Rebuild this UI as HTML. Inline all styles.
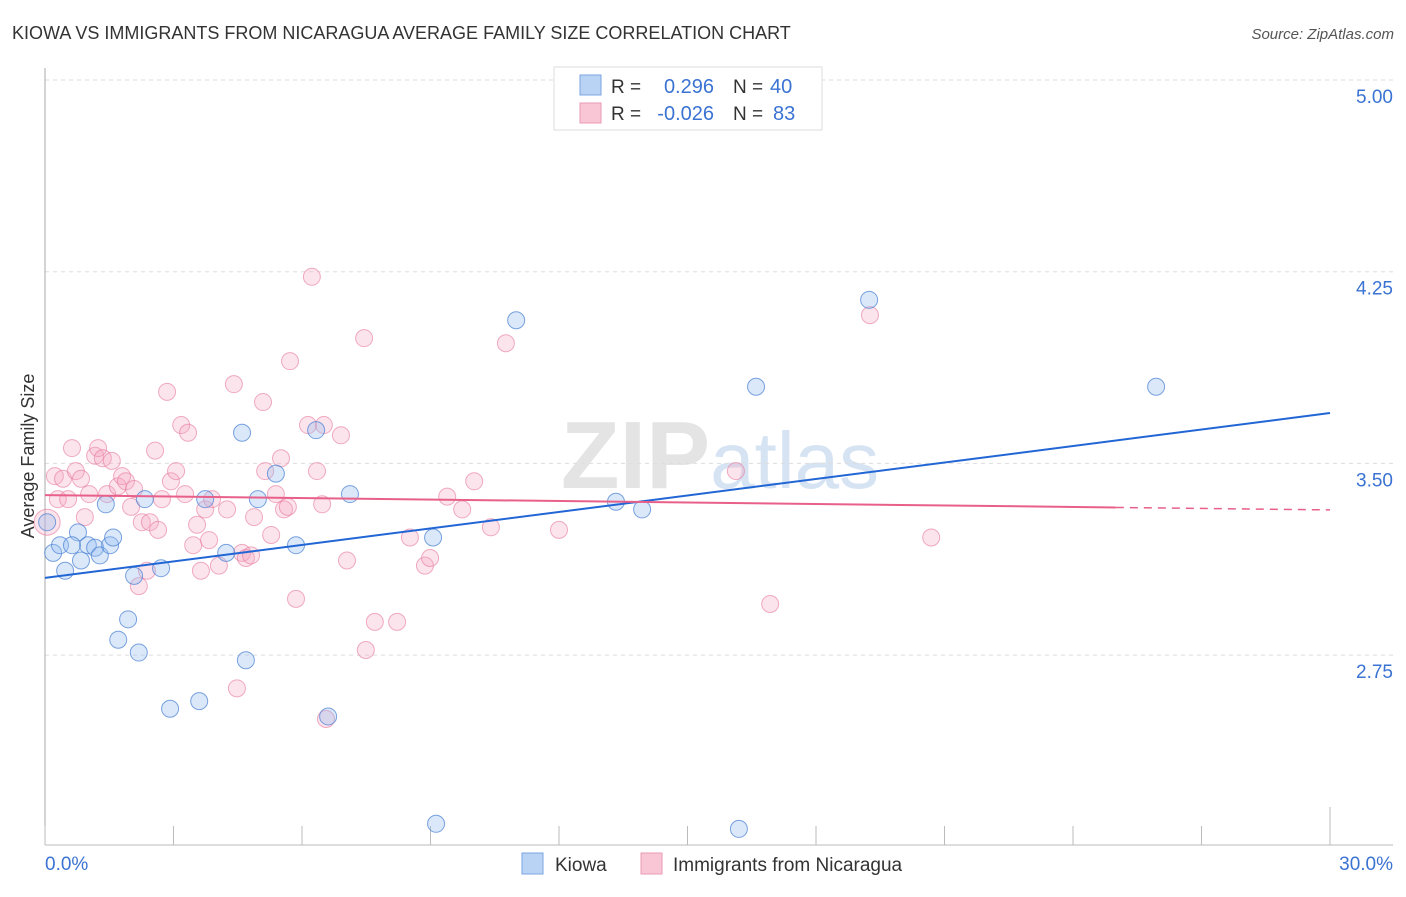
<!DOCTYPE html>
<html><head><meta charset="utf-8"><style>
body{margin:0;background:#fff;font-family:"Liberation Sans",sans-serif}
svg text{font-family:"Liberation Sans",sans-serif}
</style></head><body>
<svg id="chart" width="1406" height="892" xmlns="http://www.w3.org/2000/svg">
<text x="12" y="39" font-size="18" fill="#333">KIOWA VS IMMIGRANTS FROM NICARAGUA AVERAGE FAMILY SIZE CORRELATION CHART</text>
<text x="1394" y="39" font-size="15" fill="#555" text-anchor="end" font-style="italic">Source: ZipAtlas.com</text>
<text x="720" y="488" font-size="96" fill="#e4e4e4" text-anchor="middle" font-family="Liberation Serif" font-weight="bold">ZIP<tspan fill="#d6e3f3" font-family="Liberation Sans" font-weight="normal" font-size="80">atlas</tspan></text>
<g id="grid"></g><g id="axes"></g><g id="pts"></g><g id="lines"></g>
<text transform="translate(34,456) rotate(-90)" font-size="18" fill="#333" text-anchor="middle">Average Family Size</text>
<g>
<rect x="554" y="67" width="268" height="63" fill="#fff" stroke="#ddd"/>
<rect x="580" y="75" width="21" height="20" fill="#b9d3f5" stroke="#7aa5e0"/>
<rect x="580" y="103" width="21" height="20" fill="#f9c6d5" stroke="#eb9ab4"/>
<text x="611" y="93" font-size="19" fill="#333">R =</text>
<text x="714" y="93" font-size="20" fill="#3b73d3" text-anchor="end">0.296</text>
<text x="733" y="93" font-size="19" fill="#333">N =</text>
<text x="770" y="93" font-size="20" fill="#3b73d3">40</text>
<text x="611" y="120" font-size="19" fill="#333">R =</text>
<text x="714" y="120" font-size="20" fill="#3b73d3" text-anchor="end">-0.026</text>
<text x="733" y="120" font-size="19" fill="#333">N =</text>
<text x="773" y="120" font-size="20" fill="#3b73d3">83</text>
</g>
<g>
<rect x="522" y="853" width="21" height="21" fill="#b9d3f5" stroke="#7aa5e0"/>
<text x="555" y="871" font-size="19" fill="#333">Kiowa</text>
<rect x="641" y="853" width="21" height="21" fill="#f9c6d5" stroke="#eb9ab4"/>
<text x="673" y="871" font-size="19" fill="#333">Immigrants from Nicaragua</text>
</g>
</svg>
<script>
const yTicks=[5.00,4.25,3.50,2.75];
const yTickLabels=["5.00","4.25","3.50","2.75"];
const xTicks=[0,3,6,9,12,15,18,21,24,27,30];
const kiowaX=[0.05,0.19,0.35,0.47,0.77,0.84,1.00,1.17,1.28,1.42,1.52,1.59,1.71,1.94,2.08,2.19,2.33,2.71,2.92,3.60,3.74,4.23,4.60,4.69,4.97,5.39,5.86,6.33,6.61,7.12,9.06,9.13,11.00,13.33,13.94,16.20,16.60,19.24,25.94,0.63];
const kiowaY=[3.27,3.15,3.18,3.08,3.23,3.12,3.18,3.17,3.14,3.34,3.18,3.21,2.81,2.89,3.06,2.76,3.36,3.09,2.54,2.57,3.36,3.15,3.62,2.73,3.36,3.46,3.18,3.63,2.51,3.38,3.21,2.09,4.06,3.35,3.32,2.07,3.80,4.14,3.80,3.18];
const nicX=[0.05,0.23,0.30,0.42,0.54,0.63,0.72,0.84,0.93,1.03,1.17,1.24,1.35,1.45,1.56,1.70,1.80,1.89,2.01,2.08,2.19,2.26,2.38,2.45,2.57,2.64,2.73,2.85,2.94,3.06,3.18,3.27,3.34,3.46,3.55,3.64,3.74,3.83,3.90,4.06,4.25,4.41,4.48,4.60,4.69,4.81,4.88,5.09,5.14,5.28,5.39,5.51,5.58,5.67,5.72,5.86,6.14,6.23,6.35,6.47,6.51,6.56,6.91,7.05,7.45,7.49,7.70,8.22,8.52,8.87,8.99,9.39,9.74,10.02,10.41,10.76,12.00,16.13,16.93,19.26,20.69];
const nicY=[3.27,3.45,3.36,3.44,3.36,3.56,3.47,3.44,3.29,3.38,3.53,3.56,3.52,3.38,3.51,3.41,3.45,3.43,3.33,3.40,3.02,3.27,3.08,3.27,3.55,3.24,3.36,3.78,3.43,3.47,3.65,3.38,3.62,3.18,3.26,3.08,3.32,3.20,3.36,3.10,3.32,3.81,2.62,3.15,3.13,3.14,3.29,3.74,3.47,3.22,3.38,3.52,3.32,3.33,3.90,2.97,3.65,4.23,3.47,3.34,3.65,2.50,3.61,3.12,3.99,2.77,2.88,2.88,3.21,3.10,3.13,3.37,3.32,3.43,3.25,3.97,3.24,3.47,2.95,4.08,3.21];
const kiowaTrend=[3.052,3.697];
const nicTrend=[3.376,3.318];
const nicSolidEnd=25;
const X=v=>45+v/30*1285, Y=v=>80+(5-v)*255.6;
const NS="http://www.w3.org/2000/svg";
function mk(tag,attrs,parent){const e=document.createElementNS(NS,tag);for(const k in attrs)e.setAttribute(k,attrs[k]);document.getElementById(parent).appendChild(e);return e;}
yTicks.forEach((t,i)=>{
 const l=mk('line',{x1:45,x2:1393,y1:Y(t),y2:Y(t),stroke:'#ddd','stroke-dasharray':'4,4'},'grid');
 
 
 const tx=mk('text',{x:1393,y:Y(t)+23,'font-size':19,fill:'#3b73d3','text-anchor':'end'},'grid');
 tx.textContent=yTickLabels[i];
 
 
});
const ax=mk('line',{x1:45,x2:45,y1:68,y2:845,stroke:'#aaa'},'axes');


const bx=mk('line',{x1:45,x2:1393,y1:845,y2:845,stroke:'#bbb'},'axes');


xTicks.forEach((t,i)=>{
 const tk=mk('line',{x1:X(t),x2:X(t),y1:(i==xTicks.length-1?807:826),y2:845,stroke:'#bbb'},'axes');
 
 
});
const xl0=mk('text',{x:45,y:870,'font-size':19,fill:'#3b73d3'},'axes');xl0.textContent='0.0%';


const xl1=mk('text',{x:1393,y:870,'font-size':19,fill:'#3b73d3','text-anchor':'end'},'axes');xl1.textContent='30.0%';


nicX.forEach((v,i)=>{
 const c=mk('circle',{cx:X(v),cy:Y(nicY[i]),r:i==0?13:8.5,fill:'rgba(245,165,192,0.3)',stroke:'rgba(230,120,155,0.6)','stroke-width':1},'pts');
 
 
});
kiowaX.forEach((v,i)=>{
 const c=mk('circle',{cx:X(v),cy:Y(kiowaY[i]),r:8.5,fill:'rgba(150,190,240,0.35)',stroke:'rgba(70,125,210,0.7)','stroke-width':1},'pts');
 
 
});
const bl=mk('line',{x1:X(0),y1:Y(kiowaTrend[0]),x2:X(30),y2:Y(kiowaTrend[1]),stroke:'#2166d4','stroke-width':2},'lines');


const py=x=>nicTrend[0]+(nicTrend[1]-nicTrend[0])*x/30;
const pl=mk('line',{x1:X(0),y1:Y(py(0)),x2:X(nicSolidEnd),y2:Y(py(nicSolidEnd)),stroke:'#e8608a','stroke-width':2},'lines');


const pd=mk('line',{x1:X(nicSolidEnd),y1:Y(py(nicSolidEnd)),x2:X(30),y2:Y(py(30)),stroke:'#e8608a','stroke-width':1.5,'stroke-dasharray':'8,6'},'lines');


</script>
</body></html>
